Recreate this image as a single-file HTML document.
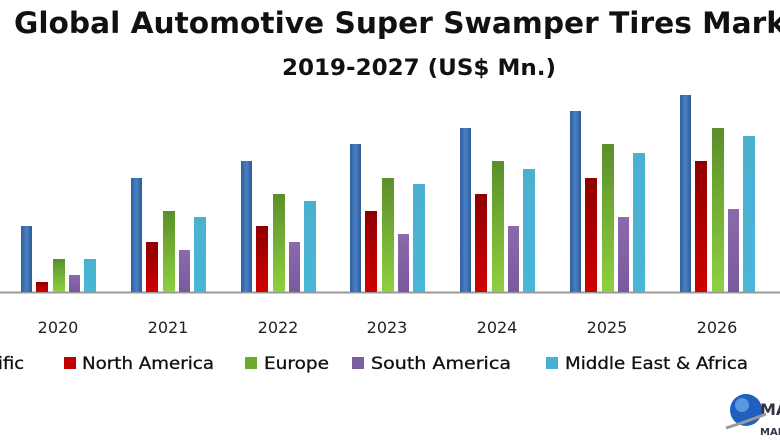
<!DOCTYPE html>
<html><head><style>body{margin:0;background:#fff}svg{display:block}</style></head><body>
<svg width="780" height="440" viewBox="0 0 780 440" xmlns="http://www.w3.org/2000/svg" font-family="DejaVu Sans, Liberation Sans, sans-serif">
<defs>
<linearGradient id="b" x1="0" x2="1"><stop offset="0" stop-color="#2f5f9f"/><stop offset=".5" stop-color="#4a7fc4"/><stop offset="1" stop-color="#2c5a96"/></linearGradient>
<linearGradient id="r" x1="0" y1="0" x2="0" y2="1"><stop offset="0" stop-color="#8e0000"/><stop offset="1" stop-color="#d00000"/></linearGradient>
<linearGradient id="g" x1="0" y1="0" x2="0" y2="1"><stop offset="0" stop-color="#5a8f2a"/><stop offset="1" stop-color="#8fd040"/></linearGradient>
<linearGradient id="p" x1="0" y1="0" x2="0" y2="1"><stop offset="0" stop-color="#8a6aaa"/><stop offset="1" stop-color="#7a5a9e"/></linearGradient>
<linearGradient id="c" x1="0" y1="0" x2="0" y2="1"><stop offset="0" stop-color="#4bb0d0"/><stop offset="1" stop-color="#48b6d6"/></linearGradient>
</defs>
<text x="14" y="33" font-size="29" font-weight="bold" fill="#111" textLength="772" lengthAdjust="spacingAndGlyphs">Global Automotive Super Swamper Tires Mark</text>
<text x="282" y="75" font-size="22" font-weight="bold" fill="#111" textLength="274" lengthAdjust="spacingAndGlyphs">2019-2027 (US$ Mn.)</text>
<line x1="0" y1="292.5" x2="780" y2="292.5" stroke="#999" stroke-width="2"/>
<g font-size="16" fill="#222" text-anchor="middle">
<text x="58" y="333">2020</text><text x="168" y="333">2021</text><text x="278" y="333">2022</text><text x="387" y="333">2023</text><text x="497" y="333">2024</text><text x="607" y="333">2025</text><text x="717" y="333">2026</text>
</g>
<g font-size="17" fill="#111" stroke="#111" stroke-width="0.3">
<text x="-2" y="369" textLength="26" lengthAdjust="spacingAndGlyphs">ific</text>
<rect x="64" y="357" width="12" height="12" fill="#c00000" stroke="none"/><text x="82" y="369" textLength="132" lengthAdjust="spacingAndGlyphs">North America</text>
<rect x="245" y="357" width="12" height="12" fill="#6aaa30" stroke="none"/><text x="264" y="369" textLength="65" lengthAdjust="spacingAndGlyphs">Europe</text>
<rect x="352" y="357" width="12" height="12" fill="#7d5fa0" stroke="none"/><text x="371" y="369" textLength="140" lengthAdjust="spacingAndGlyphs">South America</text>
<rect x="546" y="357" width="12" height="12" fill="#45b0d4" stroke="none"/><text x="565" y="369" textLength="183" lengthAdjust="spacingAndGlyphs">Middle East &amp; Africa</text>
</g>
<circle cx="746" cy="410" r="16" fill="#1f5fc0"/><circle cx="742" cy="405" r="7" fill="#6fb0f0" opacity=".7"/>
<text x="760" y="415" font-size="16" font-weight="bold" fill="#334">MA</text>
<text x="760" y="435" font-size="10" font-weight="bold" fill="#334">MAR</text>
<path d="M726 428 q20 -6 40 -14" stroke="#999" stroke-width="3" fill="none"/>
<g>
<rect x="21" y="226" width="11" height="66" fill="url(#b)"/><rect x="36" y="282" width="12" height="10" fill="url(#r)"/><rect x="53" y="259" width="12" height="33" fill="url(#g)"/><rect x="69" y="275" width="11" height="17" fill="url(#p)"/><rect x="84" y="259" width="12" height="33" fill="url(#c)"/>
<rect x="131" y="178" width="11" height="114" fill="url(#b)"/><rect x="146" y="242" width="12" height="50" fill="url(#r)"/><rect x="163" y="211" width="12" height="81" fill="url(#g)"/><rect x="179" y="250" width="11" height="42" fill="url(#p)"/><rect x="194" y="217" width="12" height="75" fill="url(#c)"/>
<rect x="241" y="161" width="11" height="131" fill="url(#b)"/><rect x="256" y="226" width="12" height="66" fill="url(#r)"/><rect x="273" y="194" width="12" height="98" fill="url(#g)"/><rect x="289" y="242" width="11" height="50" fill="url(#p)"/><rect x="304" y="201" width="12" height="91" fill="url(#c)"/>
<rect x="350" y="144" width="11" height="148" fill="url(#b)"/><rect x="365" y="211" width="12" height="81" fill="url(#r)"/><rect x="382" y="178" width="12" height="114" fill="url(#g)"/><rect x="398" y="234" width="11" height="58" fill="url(#p)"/><rect x="413" y="184" width="12" height="108" fill="url(#c)"/>
<rect x="460" y="128" width="11" height="164" fill="url(#b)"/><rect x="475" y="194" width="12" height="98" fill="url(#r)"/><rect x="492" y="161" width="12" height="131" fill="url(#g)"/><rect x="508" y="226" width="11" height="66" fill="url(#p)"/><rect x="523" y="169" width="12" height="123" fill="url(#c)"/>
<rect x="570" y="111" width="11" height="181" fill="url(#b)"/><rect x="585" y="178" width="12" height="114" fill="url(#r)"/><rect x="602" y="144" width="12" height="148" fill="url(#g)"/><rect x="618" y="217" width="11" height="75" fill="url(#p)"/><rect x="633" y="153" width="12" height="139" fill="url(#c)"/>
<rect x="680" y="95" width="11" height="197" fill="url(#b)"/><rect x="695" y="161" width="12" height="131" fill="url(#r)"/><rect x="712" y="128" width="12" height="164" fill="url(#g)"/><rect x="728" y="209" width="11" height="83" fill="url(#p)"/><rect x="743" y="136" width="12" height="156" fill="url(#c)"/>
</g>
</svg>
</body></html>
